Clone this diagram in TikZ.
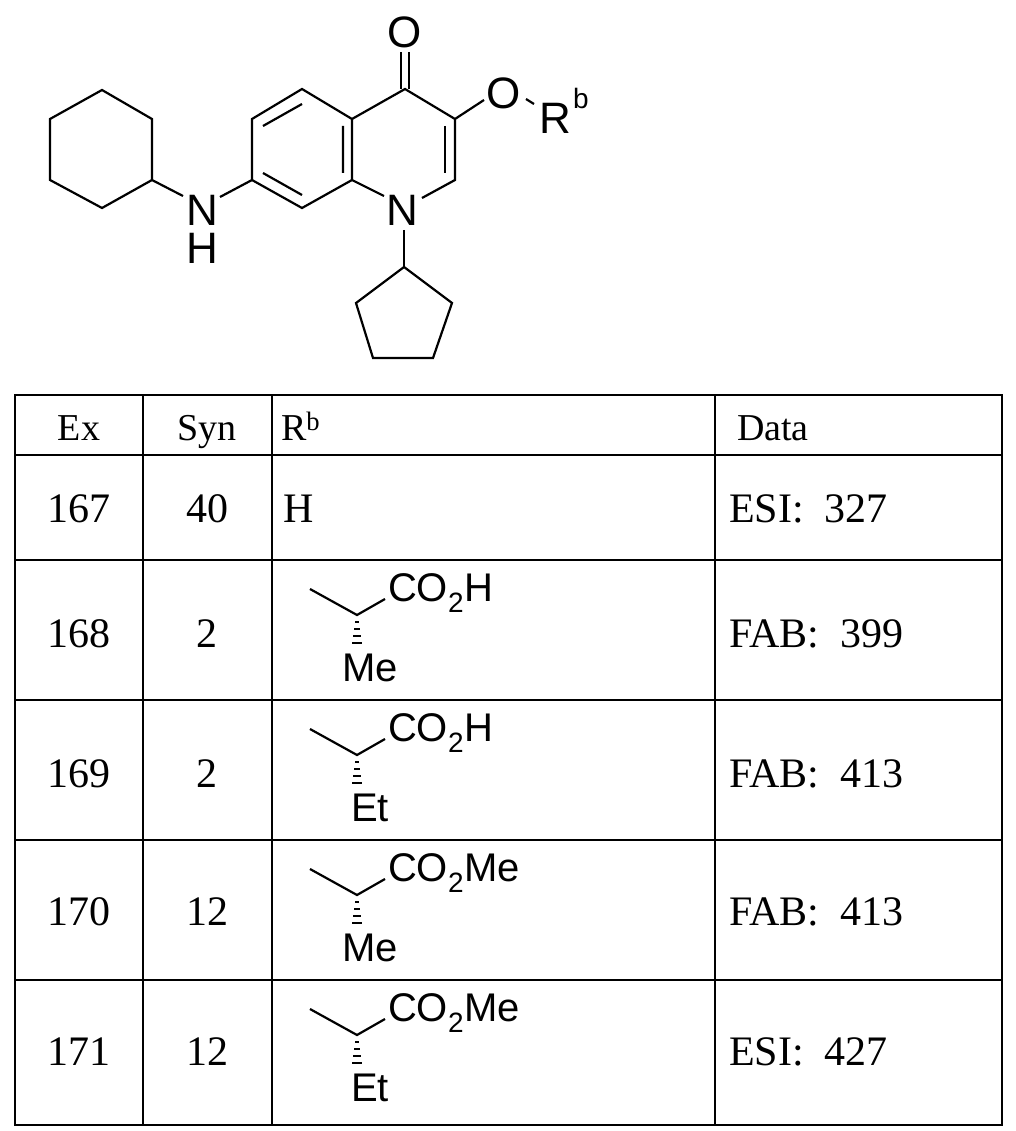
\documentclass[tikz,border=0pt]{standalone}
\usepackage{fontspec}
\setmainfont{Liberation Serif}
\newfontfamily\chemfont{Liberation Sans}
\begin{document}
\begin{tikzpicture}[x=1pt,y=-1pt,line width=2.2pt,line join=miter,
  bond/.style={line width=2.2pt},
  atom/.style={font=\chemfont\fontsize{44}{44}\selectfont,inner sep=0pt},
  tab/.style={font=\fontsize{42}{42}\selectfont,inner sep=0pt},
  hdr/.style={font=\fontsize{38}{38}\selectfont,inner sep=0pt,anchor=base}]
\useasboundingbox (0,0) rectangle (1015,1131);
% cyclohexane
\coordinate (h1) at (102,90); \coordinate (h2) at (152,119); \coordinate (h3) at (152,180);
\coordinate (h4) at (102,208); \coordinate (h5) at (50,180); \coordinate (h6) at (50,119);
\draw[bond] (h1)--(h2)--(h3)--(h4)--(h5)--(h6)--cycle;
\node[atom] (nh) at (202,210) {N};
\node[atom] (hh) at (202,248) {H};
\draw[bond] (h3)--(183,196);
% benzo ring
\coordinate (b1) at (252,180); \coordinate (b2) at (252,119); \coordinate (b3) at (302,89);
\coordinate (b4) at (352,119); \coordinate (b5) at (352,180); \coordinate (b6) at (302,208);
\draw[bond] (220,197)--(b1);
\draw[bond] (b1)--(b2)--(b3)--(b4)--(b5)--(b6)--cycle;
\draw[bond] (263,126)--(302,104) (263,173)--(302,195) (343,126)--(343,173);
% pyridone
\coordinate (c4) at (405,89); \coordinate (c3) at (455,119); \coordinate (c2) at (455,180);
\node[atom] (n1) at (402,210) {N};
\draw[bond] (b4)--(c4)--(c3)--(c2)--(422,198);
\draw[bond] (445,126)--(445,173);
\draw[bond] (b5)--(384,196);
\draw[bond] (401,89)--(401,52) (409,89)--(409,52);
\node[atom] (o1) at (405,32) {O};
\draw[bond] (c3)--(484,100);
\node[atom] (o2) at (504,93) {O};
\draw[bond] (526,99)--(534,104);
\node[atom] (rb) at (555,118) {R};
\node[atom,font=\chemfont\fontsize{28}{28}\selectfont] (rbs) at (581,98) {b};
% cyclopentyl
\coordinate (p1) at (404,267); \coordinate (p2) at (452,303); \coordinate (p3) at (433,358);
\coordinate (p4) at (373,358); \coordinate (p5) at (356,303);
\draw[bond] (404,230)--(p1);
\draw[bond] (p1)--(p2)--(p3)--(p4)--(p5)--cycle;
% table
\draw[line width=1.6pt] (15,395) rectangle (1002,1125);
\foreach \x in {143,272,715} \draw[line width=1.6pt] (\x,395)--(\x,1125);
\foreach \y in {455,560,700,840,980} \draw[line width=1.6pt] (15,\y)--(1002,\y);
\node[hdr] (hex) at (79,440) {Ex};
\node[hdr] (hsyn) at (207,440) {Syn};
\node[hdr,anchor=base west] (hr) at (280,440) {R\textsuperscript{b}};
\node[hdr,anchor=base west] (hd) at (736,440) {Data};
\foreach \ex/\syn/\dat/\yy in {167/40/{ESI:\ \ 327}/509,168/2/{FAB:\ \ 399}/634,169/2/{FAB:\ \ 413}/774,170/12/{FAB:\ \ 413}/912,171/12/{ESI:\ \ 427}/1052}{
  \node[tab] (ex\ex) at (79,\yy) {\ex};
  \node[tab] (syn\ex) at (207,\yy) {\syn};
  \node[tab,anchor=west] (dat\ex) at (728,\yy) {\dat};
}
\node[tab,anchor=west] (rh) at (282,509) {H};
\foreach \oy/\grp/\sub/\nm in {560/H/Me/a,700/H/Et/b,840/Me/Me/c,980/Me/Et/d}{
  \begin{scope}[shift={(0,\oy-560)}]
  \coordinate (s\nm) at (357,615);
  \draw[bond] (310,589)--(s\nm)--(385,599);
  \draw[line width=1.4pt] (355,622)--(359,622) (354,629)--(360,629) (353,636)--(361,636) (352,643)--(362,643);
  \node[atom,anchor=west,font=\chemfont\fontsize{40}{40}\selectfont] (g\nm) at (387,593) {CO\textsubscript{2}\grp};
  \node[atom,font=\chemfont\fontsize{40}{40}\selectfont] (m\nm) at (370,668) {\sub};
  \end{scope}
}
\end{tikzpicture}
\end{document}
